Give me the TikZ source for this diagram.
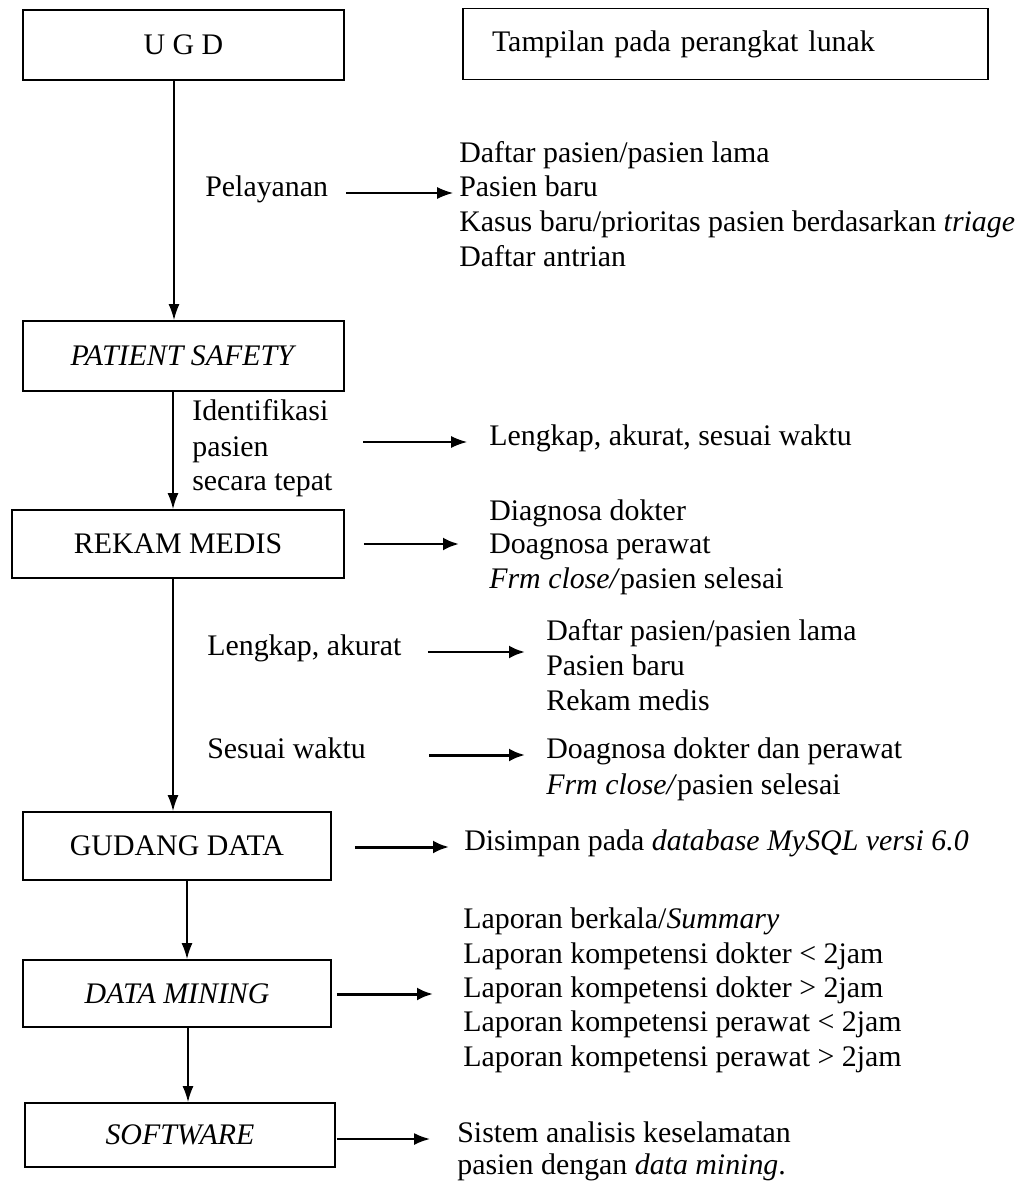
\documentclass[tikz,border=0pt]{standalone}
\usepackage{fontspec}
\setmainfont{Liberation Serif}
\usetikzlibrary{positioning}
\usetikzlibrary{arrows.meta}

\tikzset{
    blok/.style={draw, line width=1.1pt, inner sep=0pt, font=\fontsize{17}{20}\selectfont},
    baris/.style={anchor=west, inner sep=0pt, text height=1.45ex, text depth=0.65ex, font=\fontsize{17}{20}\selectfont},
    panah/.style={-{Latex[length=0.32cm,width=0.24cm]}, line width=0.7pt},
    panahtebal/.style={-{Latex[length=0.32cm,width=0.26cm]}, line width=1.7pt},
    turun/.style={-{Latex[length=0.32cm,width=0.22cm]}, line width=0.8pt},
}

\begin{document}
\begin{tikzpicture}[x=0.02cm, y=-0.02cm]
    \useasboundingbox (0,0) rectangle (1025,1189);

    % boxes
    \node [blok, minimum width=6.42cm, minimum height=1.4cm] (ugd) at (183.5,45) {U G D};
    \node [blok, minimum height=1.42cm, text width=9.34cm, inner xsep=0.58cm, align=left] (tpl) at (725.5,44) {Tampilan pada perangkat lunak};
    \node [blok, minimum width=6.42cm, minimum height=1.4cm] (ps) at (183.5,356) {\textit{PATIENT SAFETY}};
    \node [blok, minimum width=6.64cm, minimum height=1.36cm] (rm) at (178,544) {REKAM MEDIS};
    \node [blok, minimum width=6.16cm, minimum height=1.36cm] (gd) at (177,846) {GUDANG DATA};
    \node [blok, minimum width=6.16cm, minimum height=1.34cm] (dm) at (177,993.5) {\textit{DATA MINING}};
    \node [blok, minimum width=6.2cm, minimum height=1.28cm] (sw) at (180,1135) {\textit{SOFTWARE}};

    % left labels
    \node [baris] (pel) at (205,193) {Pelayanan};
    \node [baris] (id1) at (192,417) {Identifikasi};
    \node [baris] (id2) at (192,453) {pasien};
    \node [baris] (id3) at (192,487) {secara tepat};
    \node [baris] (lka) at (207,652) {Lengkap, akurat};
    \node [baris] (swk) at (207,755) {Sesuai waktu};

    % right lists
    \node [baris] (a1) at (459,159) {Daftar pasien/pasien lama};
    \node [baris] (a2) at (459,193) {Pasien baru};
    \node [baris] (a3) at (459,228) {Kasus baru/prioritas pasien berdasarkan \textit{triage}};
    \node [baris] (a4) at (459,263) {Daftar antrian};

    \node [baris] (lk) at (489,442) {Lengkap, akurat, sesuai waktu};

    \node [baris] (b1) at (489,517) {Diagnosa dokter};
    \node [baris] (b2) at (489,550) {Doagnosa perawat};
    \node [baris] (b3) at (489,585) {\textit{Frm close/}pasien selesai};

    \node [baris] (c1) at (546,637) {Daftar pasien/pasien lama};
    \node [baris] (c2) at (546,672) {Pasien baru};
    \node [baris] (c3) at (546,707) {Rekam medis};

    \node [baris] (e1) at (546,755) {Doagnosa dokter dan perawat};
    \node [baris] (e2) at (546,791) {\textit{Frm close/}pasien selesai};

    \node [baris] (g1) at (464,847) {Disimpan pada \textit{database MySQL versi 6.0}};

    \node [baris] (d1) at (463,925) {Laporan berkala/\textit{Summary}};
    \node [baris] (d2) at (463,960) {Laporan kompetensi dokter < 2jam};
    \node [baris] (d3) at (463,994) {Laporan kompetensi dokter > 2jam};
    \node [baris] (d4) at (463,1028) {Laporan kompetensi perawat < 2jam};
    \node [baris] (d5) at (463,1063) {Laporan kompetensi perawat > 2jam};

    \node [baris] (s1) at (457,1139) {Sistem analisis keselamatan};
    \node [baris] (s2) at (457,1171) {pasien dengan \textit{data mining}.};

    \coordinate (idk) at (363,442);

    % flow down
    \draw [turun] ([xshift=-0.19cm]ugd.south) -- ([xshift=-0.19cm]ps.north);
    \draw [turun] ([xshift=-0.21cm]ps.south) -- ([xshift=-0.21cm]ps.south |- rm.north);
    \draw [turun] ([xshift=-0.1cm]rm.south) -- ([xshift=-0.1cm]rm.south |- gd.north);
    \draw [turun] ([xshift=0.2cm]gd.south) -- ([xshift=0.2cm]gd.south |- dm.north);
    \draw [turun] ([xshift=0.22cm]dm.south) -- ([xshift=0.22cm]dm.south |- sw.north);

    % to the right
    \draw [panah] ([xshift=0.36cm]pel.east) -- ([xshift=-0.12cm]a2.west);
    \draw [panah] (idk) -- ([xshift=-0.44cm]lk.west);
    \draw [panahtebal] ([xshift=0.38cm]rm.east) -- ([xshift=-0.6cm]b2.west |- rm.east);
    \draw [panahtebal] ([xshift=0.52cm]lka.east) -- ([xshift=-0.42cm]c1.west |- lka.east);
    \draw [panahtebal] ([xshift=1.26cm]swk.east) -- ([xshift=-0.42cm]e1.west);
    \draw [panahtebal] ([xshift=0.46cm]gd.east |- g1.west) -- ([xshift=-0.3cm]g1.west);
    \draw [panahtebal] ([xshift=0.1cm]dm.east |- d3.west) -- ([xshift=-0.6cm]d3.west);
    \draw [panah, line width=1.1pt] ([xshift=0.02cm]sw.east |- s1.west) -- ([xshift=-0.54cm]s1.west);

\end{tikzpicture}
\end{document}
